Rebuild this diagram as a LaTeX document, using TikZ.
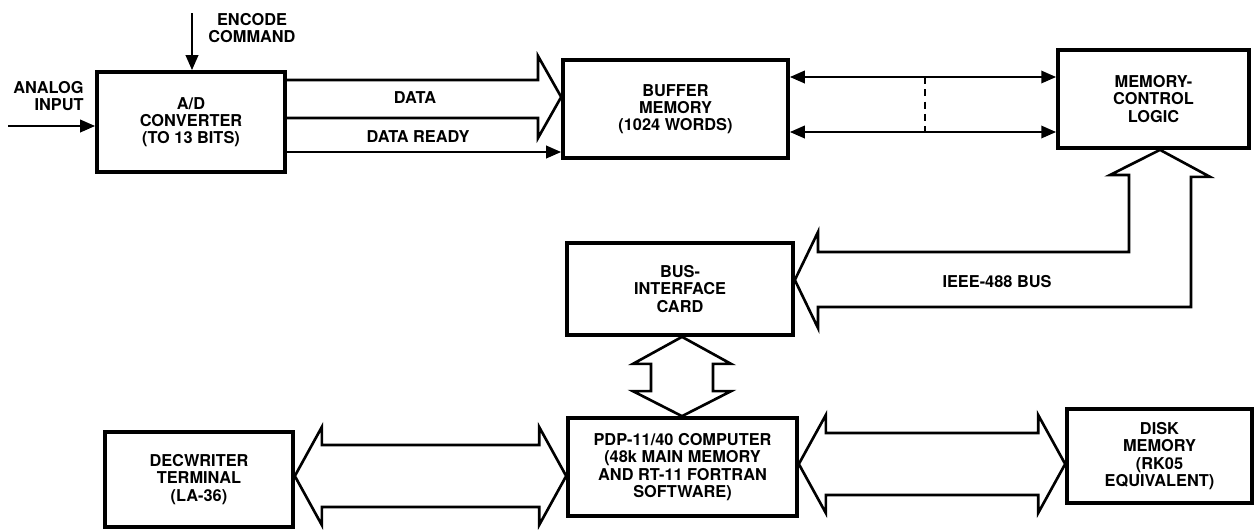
\documentclass[tikz,border=0pt]{standalone}
\usepackage{fontspec}
\setmainfont{TeX Gyre Heros}
\usetikzlibrary{arrows.meta,calc}

\begin{document}
\begin{tikzpicture}[x=0.02cm,y=-0.02cm,
    block/.style={draw,line width=2.1pt,inner sep=0pt,align=center,
                  font=\fontsize{9.3}{9.8}\selectfont\bfseries},
    lbl/.style={align=center,inner sep=0pt,font=\fontsize{9.3}{9.8}\selectfont\bfseries},
    wire/.style={line width=1.4pt,-{Triangle[length=8.5pt,width=7pt]}},
    fatarrow/.style={line width=1.5pt,line join=miter}]
  \useasboundingbox (0,0) rectangle (1258,529);

  % blocks
  \node[block,minimum width=3.76cm,minimum height=2cm] (ad) at (191,122)
       {A/D\\CONVERTER\\(TO 13 BITS)};
  \node[block,minimum width=4.5cm,minimum height=1.96cm] (buf) at (675.5,109)
       {BUFFER\\MEMORY\\(1024 WORDS)};
  \node[block,minimum width=3.82cm,minimum height=1.96cm] (mcl) at (1153.5,99)
       {MEMORY-\\CONTROL\\LOGIC};
  \node[block,minimum width=4.52cm,minimum height=1.84cm] (bic) at (680,289)
       {BUS-\\INTERFACE\\CARD};
  \node[block,minimum width=4.58cm,minimum height=1.96cm] (pdp) at (682.5,467)
       {PDP-11/40 COMPUTER\\(48k MAIN MEMORY\\AND RT-11 FORTRAN\\SOFTWARE)};
  \node[block,minimum width=3.76cm,minimum height=1.9cm] (dec) at (199,479.5)
       {DECWRITER\\TERMINAL\\(LA-36)};
  \node[block,minimum width=3.7cm,minimum height=1.88cm] (disk) at (1159.5,456)
       {DISK\\MEMORY\\(RK05\\EQUIVALENT)};

  % inputs of the converter
  \coordinate (ain) at (8,126);
  \coordinate (enc) at (192,13);
  \draw[wire] (ain) -- (ain -| ad.west);
  \draw[wire] (enc) -- (enc |- ad.north);
  \node[lbl,anchor=east,align=right] (ainlbl) at (84,96) {ANALOG\\INPUT};
  \node[lbl] (enclbl) at (252,28) {ENCODE\\COMMAND};

  % converter to buffer
  \draw[fatarrow] (ad.east |- 0,80) -- (538,80) -- (538,56) -- (buf.west |- 0,97)
     -- (538,138) -- (538,118) -- (ad.east |- 0,118);
  \draw[wire] (ad.east |- 0,152) -- (buf.west |- 0,152);
  \node[lbl] (datalbl) at (415,98) {DATA};
  \node[lbl] (rdylbl) at (418,137) {DATA READY};

  % buffer to memory control
  \foreach \y in {77,132}
    \draw[wire,{Triangle[length=8.5pt,width=7pt]}-{Triangle[length=8.5pt,width=7pt]}]
      (buf.east |- 0,\y) -- (mcl.west |- 0,\y);
  \draw[line width=1.4pt,dash pattern=on 4pt off 3pt] (925,77) -- (925,132);

  % IEEE-488 bus
  \draw[fatarrow] (mcl.south -| 1160,0) -- ++(50,27) -- ++(-19,0) -- (1191,307)
     -- (818,307) -- (818,328) -- (bic.east |- 0,280) -- (818,232) -- (818,252)
     -- (1129,252) -- (1129,175) -- (1110,175) -- cycle;
  \node[lbl] (buslbl) at (997,282) {IEEE-488 BUS};

  % interface card to computer
  \draw[fatarrow] (bic.south -| 682,0) -- ++(49,27) -- ++(-18,0)
     -- ($(pdp.north -| 682,0)+(31,-25)$) -- ++(18,0) -- (pdp.north -| 682,0)
     -- ++(-49,-25) -- ++(18,0) -- ($(bic.south -| 682,0)+(-31,27)$) -- ++(-18,0) -- cycle;

  % terminal and disk links
  \foreach \a/\b/\y in {dec/pdp/476,pdp/disk/464}{
    \draw[fatarrow] (\a.east |- 0,\y) -- ++(27,-49) -- ++(0,18)
       -- ($(\b.west |- 0,\y)+(-27,-31)$) -- ++(0,-18) -- (\b.west |- 0,\y)
       -- ++(-27,49) -- ++(0,-18) -- ($(\a.east |- 0,\y)+(27,31)$) -- ++(0,18) -- cycle;
  }
\end{tikzpicture}
\end{document}
